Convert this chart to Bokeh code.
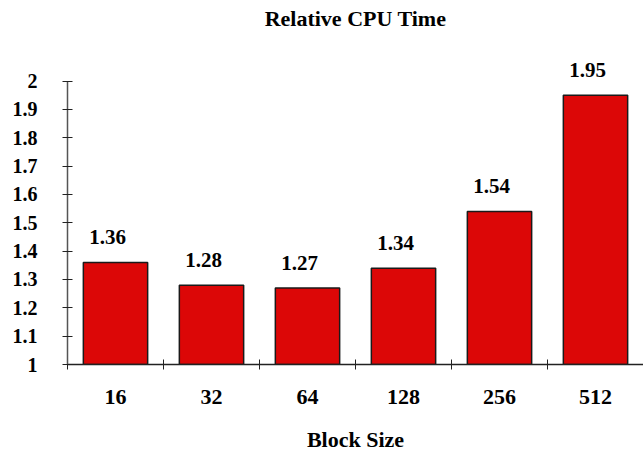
from bokeh.plotting import figure
from bokeh.models import ColumnDataSource, FixedTicker, NumeralTickFormatter, Range1d
from bokeh.core.properties import value
from bokeh.embed import file_html
from bokeh.resources import INLINE

# Relative CPU time for each block size
block_sizes = ["16", "32", "64", "128", "256", "512"]
cpu_time = [1.36, 1.28, 1.27, 1.34, 1.54, 1.95]
y_ticks = [1.0, 1.1, 1.2, 1.3, 1.4, 1.5, 1.6, 1.7, 1.8, 1.9, 2.0]

FONT = "Liberation Serif"
n = len(block_sizes)
centers = [i + 0.5 for i in range(n)]
bounds = [float(i) for i in range(n + 1)]

src = ColumnDataSource(dict(
    x=centers,
    top=cpu_time,
    label=[f"{v:.2f}" for v in cpu_time],
))

p = figure(
    width=643, height=454,
    x_range=Range1d(0, n), y_range=Range1d(1.0, 2.1713),
    output_backend="svg", toolbar_location=None,
    min_border_left=67, min_border_right=0,
    min_border_bottom=87, min_border_top=32,
)
p.outline_line_color = None
p.xgrid.visible = False
p.ygrid.visible = False

p.title.text = "Relative CPU Time"
p.title.align = "center"
p.title.text_font = FONT
p.title.text_font_size = "22px"
p.title.text_font_style = "bold"
p.title.text_color = "black"
p.title.standoff = 4

p.vbar(x="x", top="top", bottom=1.0, width=0.67, source=src,
       fill_color="#DC0707", line_color="#1a1a1a", line_width=1.5)

p.text(x="x", y="top", text="label", source=src,
       x_offset=-8, y_offset=-25,
       text_align="center", text_baseline="alphabetic",
       text_font=value(FONT), text_font_size="21px", text_font_style="bold",
       text_color="black")

# x axis: boundary ticks, labels at category centres
xa = p.xaxis[0]
xa.ticker = FixedTicker(ticks=centers, minor_ticks=bounds)
xa.major_label_overrides = {c: s for c, s in zip(centers, block_sizes)}
xa.major_tick_in = 0
xa.major_tick_out = 0
xa.minor_tick_in = 5
xa.minor_tick_out = 5
xa.minor_tick_line_color = "#222222"
xa.axis_line_color = "#222222"
xa.axis_line_width = 1.5
xa.major_label_standoff = 20
xa.major_label_text_font = FONT
xa.major_label_text_font_size = "22px"
xa.major_label_text_font_style = "bold"
xa.major_label_text_color = "black"
xa.axis_label = "Block Size"
xa.axis_label_text_font = FONT
xa.axis_label_text_font_size = "22px"
xa.axis_label_text_font_style = "bold"
xa.axis_label_text_color = "black"
xa.axis_label_standoff = 20

ya = p.yaxis[0]
ya.ticker = FixedTicker(ticks=y_ticks, minor_ticks=[])
ya.formatter = NumeralTickFormatter(format="0.[0]")
ya.bounds = (1.0, 2.0)
ya.major_tick_in = 5
ya.major_tick_out = 5
ya.major_tick_line_color = "#222222"
ya.axis_line_color = "#555555"
ya.axis_line_width = 1.5
ya.major_label_standoff = 25
ya.major_label_text_font = FONT
ya.major_label_text_font_size = "20px"
ya.major_label_text_font_style = "bold"
ya.major_label_text_color = "black"

open("out.html", "w").write(file_html(p, INLINE))
